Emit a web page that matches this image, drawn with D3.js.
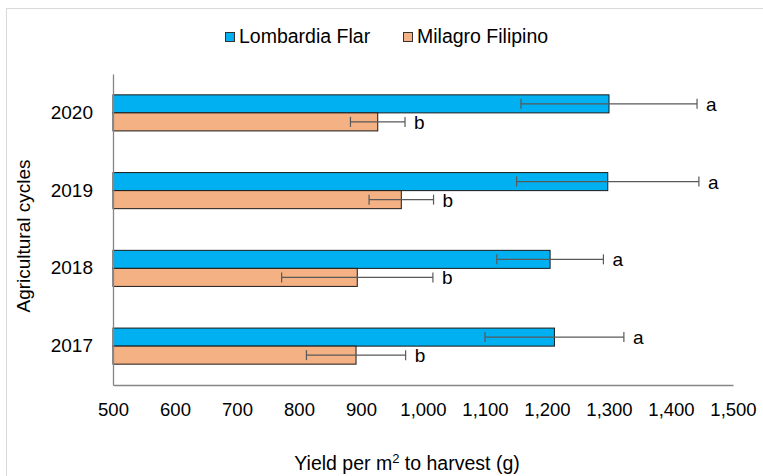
<!DOCTYPE html>
<html>
<head>
<meta charset="utf-8">
<script src="https://cdn.jsdelivr.net/npm/d3@7"></script>
<style>
  html, body { margin: 0; padding: 0; background: #fff; }
  svg { display: block; font-family: "Liberation Sans", Arial, sans-serif; }
</style>
</head>
<body>
<svg id="chart" width="763" height="476"></svg>
<script>
// Agricultural cycles, drawn top to bottom
const cycles = ["2020", "2019", "2018", "2017"];
const seriesNames = ["Lombardia Flar", "Milagro Filipino"];
const seriesColors = ["#00B0F0", "#F4B183"];
// Mean yield per m² (g) for each cycle
const lombardia = [1300, 1298, 1205, 1212];
const milagro = [927, 965, 894, 892];
// Standard deviation of each mean
const lombardiaErr = [142, 147, 86, 112];
const milagroErr = [44, 52, 122, 80];
// Significance letters
const lombardiaLetters = ["a", "a", "a", "a"];
const milagroLetters = ["b", "b", "b", "b"];
const xTicks = [500, 600, 700, 800, 900, 1000, 1100, 1200, 1300, 1400, 1500];

const svg = d3.select("#chart");
const W = 763, H = 476;
const margin = { left: 113, right: 30, top: 74, bottom: 91 };
const plotW = W - margin.left - margin.right;
const plotH = H - margin.top - margin.bottom;

// outer frame
svg.append("rect")
  .attr("x", 6.5).attr("y", 8.5)
  .attr("width", W).attr("height", H)
  .attr("fill", "none").attr("stroke", "#d9d9d9").attr("stroke-width", 1);

const g = svg.append("g").attr("transform", `translate(${margin.left},${margin.top})`);

const x = d3.scaleLinear().domain([500, 1500]).range([0, plotW]);
const y = d3.scaleBand().domain(cycles).range([0, plotH]).paddingInner(0.536).paddingOuter(0.268);
const sub = d3.scaleBand().domain(seriesNames).range([0, y.bandwidth()]);

const rows = cycles.map((c, i) => ({
  cycle: c,
  vals: [
    { name: seriesNames[0], v: lombardia[i], e: lombardiaErr[i], l: lombardiaLetters[i], color: seriesColors[0] },
    { name: seriesNames[1], v: milagro[i], e: milagroErr[i], l: milagroLetters[i], color: seriesColors[1] }
  ]
}));

const groups = g.selectAll(".cycle").data(rows).join("g")
  .attr("class", "cycle")
  .attr("transform", d => `translate(0,${y(d.cycle)})`);

// bars
groups.selectAll("rect").data(d => d.vals).join("rect")
  .attr("x", x(500))
  .attr("y", d => sub(d.name))
  .attr("width", d => x(d.v) - x(500))
  .attr("height", sub.bandwidth())
  .attr("fill", d => d.color)
  .attr("stroke", "#1a1a1a").attr("stroke-width", 1);

// error bars with significance letters
const err = groups.selectAll(".err").data(d => d.vals).join("g").attr("class", "err")
  .attr("transform", d => `translate(0,${sub(d.name) + sub.bandwidth() / 2})`);
err.append("line")
  .attr("x1", d => x(d.v - d.e)).attr("x2", d => x(d.v + d.e))
  .attr("y1", 0).attr("y2", 0)
  .attr("stroke", "#595959").attr("stroke-width", 1.2);
err.append("line")
  .attr("x1", d => x(d.v - d.e)).attr("x2", d => x(d.v - d.e))
  .attr("y1", -5).attr("y2", 5)
  .attr("stroke", "#595959").attr("stroke-width", 1.2);
err.append("line")
  .attr("x1", d => x(d.v + d.e)).attr("x2", d => x(d.v + d.e))
  .attr("y1", -5).attr("y2", 5)
  .attr("stroke", "#595959").attr("stroke-width", 1.2);
err.append("text")
  .attr("x", d => x(d.v + d.e) + 9)
  .attr("y", 7)
  .attr("font-size", 19).attr("fill", "#000")
  .text(d => d.l);

// axes
const xAxis = g.append("g").attr("transform", `translate(0,${plotH})`)
  .call(d3.axisBottom(x).tickValues(xTicks).tickSize(0).tickPadding(18).tickFormat(d3.format(",")));
xAxis.select(".domain").attr("stroke", "#868686").attr("stroke-width", 1.3);
xAxis.selectAll("text").attr("font-size", 18.5).attr("fill", "#000")
  .attr("font-family", "Liberation Sans, Arial, sans-serif");

const yAxis = g.append("g")
  .call(d3.axisLeft(y).tickSize(0).tickPadding(20));
yAxis.select(".domain").attr("stroke", "#868686").attr("stroke-width", 1.3);
yAxis.selectAll("text").attr("font-size", 19).attr("fill", "#000")
  .attr("font-family", "Liberation Sans, Arial, sans-serif");

// axis titles
const xt = svg.append("text")
  .attr("x", 407).attr("y", 470)
  .attr("text-anchor", "middle").attr("font-size", 19.5).attr("fill", "#000");
xt.append("tspan").text("Yield per m");
xt.append("tspan").attr("font-size", 13).attr("dy", -7).text("2");
xt.append("tspan").attr("dy", 7).text(" to harvest (g)");

svg.append("text")
  .attr("transform", "translate(30,236) rotate(-90)")
  .attr("text-anchor", "middle").attr("font-size", 19).attr("fill", "#000")
  .text("Agricultural cycles");

// legend
const legendX = [225, 403];
const leg = svg.selectAll(".legend").data(seriesNames).join("g")
  .attr("class", "legend")
  .attr("transform", (d, i) => `translate(${legendX[i]},32)`);
leg.append("rect")
  .attr("x", 0.5).attr("y", 0.5).attr("width", 9).attr("height", 9)
  .attr("fill", (d, i) => seriesColors[i]).attr("stroke", "#333").attr("stroke-width", 1);
leg.append("text")
  .attr("x", 14).attr("y", 11)
  .attr("font-size", 19.5).attr("fill", "#000")
  .text(d => d);
</script>
</body>
</html>
